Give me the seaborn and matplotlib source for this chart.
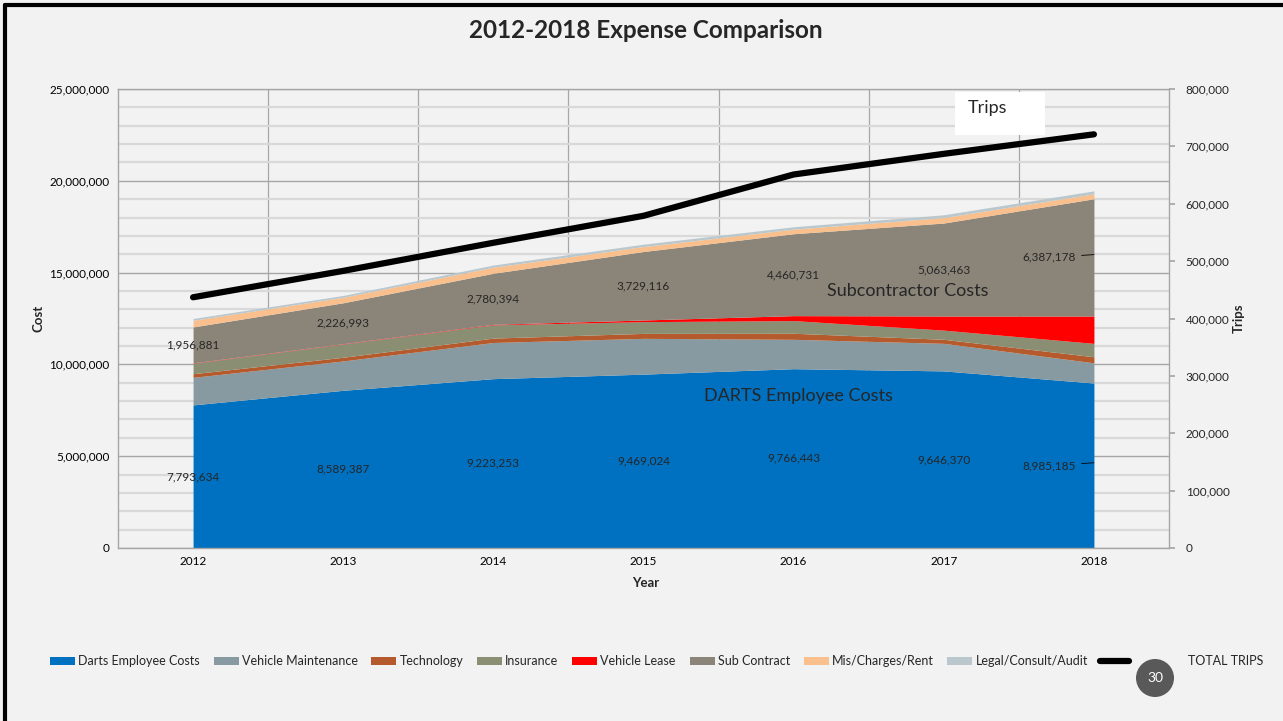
import numpy as np
import matplotlib
matplotlib.use("Agg")
import matplotlib.pyplot as plt
import seaborn as sns
from matplotlib.ticker import FuncFormatter, MultipleLocator, FixedLocator
from matplotlib.patches import Rectangle, Ellipse
from matplotlib.lines import Line2D

# data
years = ["2012", "2013", "2014", "2015", "2016", "2017", "2018"]
darts_employee = [7793634, 8589387, 9223253, 9469024, 9766443, 9646370, 8985185]
vehicle_maint = [1500000, 1600000, 1970000, 1950000, 1600000, 1500000, 1100000]
technology = [200000, 200000, 240000, 270000, 330000, 220000, 330000]
insurance = [570000, 720000, 720000, 640000, 690000, 500000, 730000]
vehicle_lease = [20000, 20000, 30000, 90000, 270000, 770000, 1490000]
sub_contract = [1956881, 2226993, 2780394, 3729116, 4460731, 5063463, 6387178]
mis_charges = [360000, 300000, 330000, 270000, 250000, 300000, 270000]
legal_consult = [100000, 100000, 120000, 130000, 130000, 150000, 160000]
total_trips = [437000, 483000, 532000, 579000, 651000, 687000, 721000]

series_names = ["Darts Employee Costs", "Vehicle Maintenance", "Technology", "Insurance",
                "Vehicle Lease", "Sub Contract", "Mis/Charges/Rent", "Legal/Consult/Audit"]
series_colors = ["#0070C0", "#879AA1", "#B55A2C", "#8A8F74", "#FF0000",
                 "#8B8478", "#F9BF8C", "#BAC8CE"]

sns.set_theme(style="white")
plt.rcParams["font.family"] = ["Lato", "DejaVu Sans"]

W, H = 1283, 721
bg = "#F2F2F2"
fig = plt.figure(figsize=(W / 100, H / 100), dpi=100, facecolor=bg)
ax = fig.add_axes([118 / W, 1 - 548 / H, (1169 - 118) / W, (548 - 89) / H])
ax.set_facecolor(bg)

x = np.arange(len(years))
stack = [darts_employee, vehicle_maint, technology, insurance, vehicle_lease,
         sub_contract, mis_charges, legal_consult]
polys = ax.stackplot(x, *stack, colors=series_colors, labels=series_names, linewidth=0, zorder=2)

ax.set_xlim(-0.5, len(years) - 0.5)
ax.set_ylim(0, 25000000)
ax.yaxis.set_major_locator(MultipleLocator(5000000))
ax.yaxis.set_minor_locator(MultipleLocator(1000000))
ax.yaxis.set_major_formatter(FuncFormatter(lambda v, p: f"{int(v):,}"))
ax.set_xticks(x)
ax.set_xticklabels(years)
ax.xaxis.set_minor_locator(FixedLocator(x[:-1] + 0.5))
ax.set_axisbelow(True)
ax.yaxis.grid(True, which="minor", color="#D9D9D9", lw=1.6)
ax.yaxis.grid(True, which="major", color="#A6A6A6", lw=1.0)
ax.xaxis.grid(True, which="minor", color="#A6A6A6", lw=0.9)
ax.xaxis.grid(False, which="major")
ax.tick_params(axis="both", which="both", length=0, labelsize=8.5, colors="black", pad=6)
for s in ax.spines.values():
    s.set_color("#A6A6A6")
    s.set_linewidth(1)

ax.set_ylabel("Cost", fontweight="bold", fontsize=9.5)
ax.yaxis.set_label_coords(-0.070, 0.5)
ax.set_xlabel("Year", fontweight="bold", fontsize=9.5)
ax.xaxis.set_label_coords(0.502, -0.064)

# trips on the secondary axis
ax2 = ax.twinx()
sns.lineplot(x=x, y=total_trips, ax=ax2, color="black", lw=4.5, label="TOTAL TRIPS",
             legend=False, zorder=5)
ax2.set_ylim(0, 800000)
ax2.yaxis.set_major_locator(MultipleLocator(100000))
ax2.yaxis.set_major_formatter(FuncFormatter(lambda v, p: f"{int(v):,}"))
ax2.tick_params(axis="y", length=4, color="#A6A6A6", labelsize=8.5, pad=8)
ax2.set_ylabel("Trips", fontweight="bold", fontsize=9.5)
ax2.yaxis.set_label_coords(1.061, 0.5)
for s in ax2.spines.values():
    s.set_visible(False)

# data labels
base_sub = np.sum(stack[:5], axis=0)
for i in range(len(years)):
    if i < len(years) - 1:
        ax.text(i, darts_employee[i] / 2, f"{darts_employee[i]:,}", ha="center", va="center",
                fontsize=8.5, zorder=6)
        ax.text(i, base_sub[i] + sub_contract[i] / 2, f"{sub_contract[i]:,}", ha="center",
                va="center", fontsize=8.5, zorder=6)
    else:
        for val, yy in [(darts_employee[i], darts_employee[i] / 2),
                        (sub_contract[i], base_sub[i] + sub_contract[i] / 2)]:
            ax.annotate(f"{val:,}", xy=(i, yy + 150000), xytext=(i - 0.3, yy), ha="center",
                        va="center", fontsize=8.5, zorder=6,
                        arrowprops=dict(arrowstyle="-", color="black", lw=0.6,
                                        shrinkA=2, shrinkB=0))

ax.text(4.76, 14000000, "Subcontractor Costs", ha="center", va="center", fontsize=13, zorder=6)
ax.text(4.03, 8300000, "DARTS Employee Costs", ha="center", va="center", fontsize=13, zorder=6)

# "Trips" callout box
fig.add_artist(Rectangle((955 / W, 1 - 135 / H), 90 / W, 43 / H, transform=fig.transFigure,
                         facecolor="white", edgecolor="none", zorder=10))
fig.text(968 / W, 1 - 108 / H, "Trips", ha="left", va="center", fontsize=13, zorder=11)

fig.text(646 / W, 1 - 30 / H, "2012-2018 Expense Comparison", ha="center", va="center",
         fontsize=17.5, fontweight="bold")

# legend: cost series, then the trips line with a wider gap (page badge sits in it)
fig.legend(list(polys), series_names, loc="center left", bbox_to_anchor=(50 / W, 1 - 661 / H),
           ncol=8, frameon=False, fontsize=9, handlelength=2.0, handleheight=0.6,
           handletextpad=0.25, columnspacing=1.1, borderaxespad=0, borderpad=0)
fig.legend(ax2.get_lines()[:1], ["TOTAL TRIPS"], loc="center left",
           bbox_to_anchor=(1100 / W, 1 - 661 / H), frameon=False, fontsize=9,
           handlelength=2.3, handletextpad=4.7, borderaxespad=0, borderpad=0)

# page number badge
fig.add_artist(Ellipse((1155 / W, 1 - 678 / H), 38 / W, 38 / H, transform=fig.transFigure,
                       facecolor="#595959", edgecolor="none", zorder=10))
fig.text(1155 / W, 1 - 678 / H, "30", ha="center", va="center", color="white",
         fontsize=10, zorder=11)

# slide frame
fig.add_artist(Line2D([5 / W, 5 / W], [0, 1 - 5 / H], color="black", lw=3,
                      transform=fig.transFigure))
fig.add_artist(Line2D([5 / W, 1], [1 - 5 / H, 1 - 5 / H], color="black", lw=3,
                      transform=fig.transFigure))

plt.savefig("out.png", dpi=100, facecolor=bg)
plt.close()
